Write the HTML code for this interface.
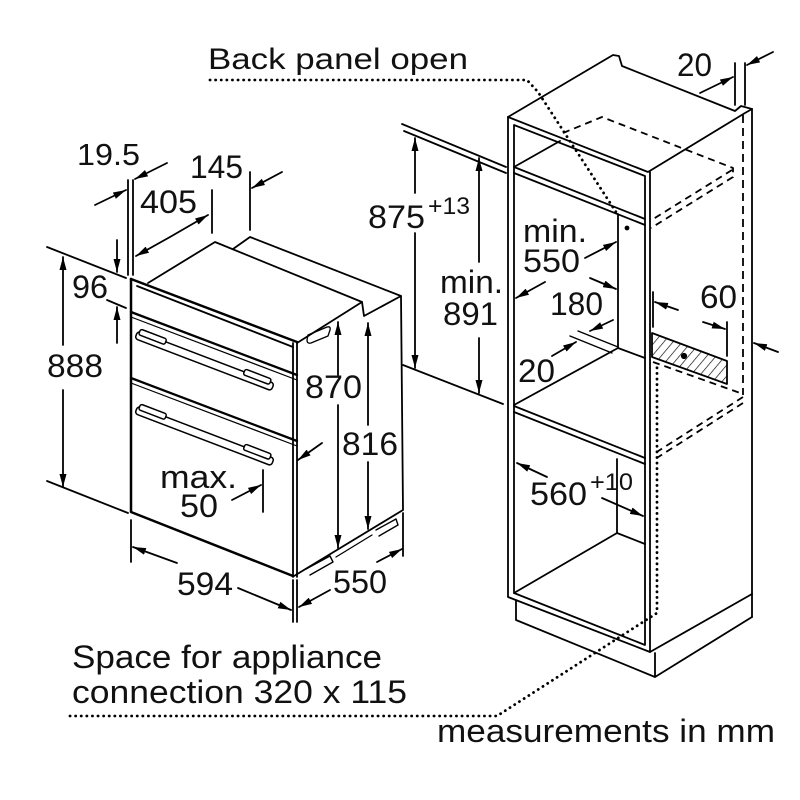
<!DOCTYPE html>
<html><head><meta charset="utf-8"><style>
html,body{margin:0;padding:0;background:#fff;}
svg{display:block;}
text{font-family:"Liberation Sans",Arial,sans-serif;fill:#111;}
</style></head><body>
<svg width="800" height="800" viewBox="0 0 800 800" xmlns="http://www.w3.org/2000/svg">
<defs>
<marker id="a" viewBox="0 0 13 7" refX="13" refY="3.5" markerWidth="13" markerHeight="7" markerUnits="userSpaceOnUse" orient="auto"><path d="M0,0L13,3.5L0,7z" fill="#000"/></marker>
<pattern id="h" width="7" height="7" patternUnits="userSpaceOnUse" patternTransform="rotate(40)"><line x1="0" y1="0" x2="0" y2="7" stroke="#000" stroke-width="1.3"/></pattern>
</defs>
<rect width="800" height="800" fill="#fff"/>
<g stroke="#000" stroke-width="1.8" fill="none" stroke-linecap="round" stroke-linejoin="round">
<!-- OVEN -->
<path d="M131,279 L131,512 L293,576" stroke-width="2.5"/>
<path d="M131,279 L297,342" stroke-width="2.5"/>
<path d="M137,286 L293,347"/>
<path d="M293,343 V577 M297,342 V577"/>
<path d="M148,283 L215,242 L362,302 L364,316 L401,296 L250,237 L233,249"/>
<path d="M297,343 L362,302"/>
<path d="M401,296 L403,510 L294,576"/>
<path d="M131,312 L297,375" stroke-width="2.3"/>
<path d="M131,317 L297,380" stroke-width="1.2"/>
<path d="M131,378 L297,441" stroke-width="2.3"/>
<path d="M131,383 L297,446" stroke-width="1.2"/>
<!-- handles -->
<g transform="translate(137,333) rotate(20.9)" stroke-width="1.5" fill="#fff">
<rect x="0" y="-2" width="146" height="8" rx="3"/>
<rect x="2" y="-5" width="28" height="6" rx="2"/>
<rect x="114" y="-5" width="28" height="6" rx="2"/>
</g>
<g transform="translate(137,408) rotate(20.9)" stroke-width="1.5" fill="#fff">
<rect x="0" y="-2" width="146" height="8" rx="3"/>
<rect x="2" y="-5" width="28" height="6" rx="2"/>
<rect x="114" y="-5" width="28" height="6" rx="2"/>
</g>
<path d="M308,335 L327,327 Q331,326 330,330 L328,336 L311,343 Q307,344 307,340 Z" stroke-width="1.3"/>
<path d="M306,569 L330,556 L333,562 L310,575 M376,530 L396,519 L398,525 L379,536" stroke-width="1.4"/>
<!-- oven dims -->
<path d="M47,247 L126,278 M47,481 L128,513"/>
<path d="M63,345 L63,257" marker-end="url(#a)"/>
<path d="M63,390 L63,487" marker-end="url(#a)"/>
<path d="M117,240 L117,272" marker-end="url(#a)"/>
<path d="M117,343 L117,307" marker-end="url(#a)"/>
<path d="M107,300 L126,308"/>
<path d="M128,180 V275 M133,180 V275"/>
<path d="M95,205 L126,190" marker-end="url(#a)"/>
<path d="M167,163 L135,179" marker-end="url(#a)"/>
<path d="M170,237 L208,215" marker-end="url(#a)"/>
<path d="M170,237 L136,256" marker-end="url(#a)"/>
<path d="M212,190 V233"/>
<path d="M250,172 V230"/>
<path d="M282,172 L252,188" marker-end="url(#a)"/>
<path d="M338,375 L338,322" marker-end="url(#a)"/>
<path d="M338,405 L338,548" marker-end="url(#a)"/>
<path d="M368,425 L368,323" marker-end="url(#a)"/>
<path d="M368,462 L368,529" marker-end="url(#a)"/>
<path d="M336,557 L372,535" stroke-width="1.3"/>
<path d="M232,500 L261,485" marker-end="url(#a)"/>
<path d="M263,470 V512"/>
<path d="M322,443 L298,460" marker-end="url(#a)"/>
<path d="M131,520 V562 M293,580 V622 M297,580 V622"/>
<path d="M177,563 L133,547" marker-end="url(#a)"/>
<path d="M238,588 L291,610" marker-end="url(#a)"/>
<path d="M403,513 V556"/>
<path d="M330,590 L299,607" marker-end="url(#a)"/>
<path d="M377,562 L402,549" marker-end="url(#a)"/>
<!-- CABINET -->
<path d="M508,117 L613,55 L619,56 L622,66 L735,111 L741,106 L752,109 L752,617"/>
<path d="M508,117 L648,172 L745,113 L752,109"/>
<path d="M508,117 V597 L650,652 V172"/>
<path d="M514,125 L645,176 L645,645 L514,593 Z"/>
<path d="M514,167 L645,219 M514,173 L645,225 M514,167 L560,141"/>
<path d="M563,133 L602,117 L733,168 L733,178" stroke-dasharray="7 5" stroke-linecap="butt"/>
<path d="M732,170 L650,221 M733,177 L651,228" stroke-dasharray="7 5" stroke-linecap="butt"/>
<path d="M743,115 V395" stroke-dasharray="8 5" stroke-linecap="butt"/>
<path d="M618,214 V348"/>
<path d="M514,405 L618,348 M618,348 L645,358"/>
<path d="M570,336 L612,353 M578,331 L618,347" stroke-width="1.4"/>
<path d="M514,406 L645,458 M514,412 L645,464"/>
<path d="M617,459 V533 L645,544 M617,533 L514,593"/>
<path d="M516,600 V620 L655,677 V653 M655,677 L752,617 M650,652 L752,594"/>
<polygon points="652,333 727,361 727,384 652,357" fill="url(#h)"/>
<circle cx="684" cy="356" r="2.2" fill="#000"/>
<circle cx="627" cy="228" r="2.4" fill="#000" stroke="none"/>
<path d="M653,362 L743,394" stroke-dasharray="7 5" stroke-linecap="butt"/>
<path d="M743,397 L652,455 M743,403 L652,461" stroke-dasharray="7 5" stroke-linecap="butt"/>
<!-- dotted leaders -->
<path d="M210,80 L527,80 L538,92 L616,212" stroke-width="2.8" stroke-dasharray="0.1 5.5"/>
<path d="M70,716 L497,716 L657,613 L657,365" stroke-width="2.8" stroke-dasharray="0.1 5.5"/>
<!-- cabinet dims -->
<path d="M402,124 L506,167 M404,131 L506,173 M403,365 L503,404"/>
<path d="M415,193 L415,138" marker-end="url(#a)"/>
<path d="M415,233 L415,368" marker-end="url(#a)"/>
<path d="M479,262 L479,158" marker-end="url(#a)"/>
<path d="M479,338 L479,393" marker-end="url(#a)"/>
<path d="M585,258 L616,242" marker-end="url(#a)"/>
<path d="M545,282 L516,298" marker-end="url(#a)"/>
<path d="M590,278 L616,289" marker-end="url(#a)"/>
<path d="M613,320 L590,331" marker-end="url(#a)"/>
<path d="M552,356 L576,342" marker-end="url(#a)"/>
<path d="M653,292 V327 M727,322 V356"/>
<path d="M678,310 L655,302" marker-end="url(#a)"/>
<path d="M703,322 L725,329" marker-end="url(#a)"/>
<path d="M778,352 L754,343" marker-end="url(#a)"/>
<path d="M735,63 V105 M745,63 V105"/>
<path d="M700,93 L733,77" marker-end="url(#a)"/>
<path d="M773,52 L747,65" marker-end="url(#a)"/>
<path d="M547,477 L517,463" marker-end="url(#a)"/>
<path d="M602,498 L643,516" marker-end="url(#a)"/>
</g>
<g font-size="32">
<text x="208" y="69" textLength="260" lengthAdjust="spacingAndGlyphs" font-size="30">Back panel open</text>
<text x="77" y="165" textLength="63" lengthAdjust="spacingAndGlyphs" font-size="31">19.5</text>
<text x="140" y="213" textLength="57" lengthAdjust="spacingAndGlyphs">405</text>
<text x="190" y="178" textLength="53" lengthAdjust="spacingAndGlyphs">145</text>
<text x="72" y="298" textLength="36" lengthAdjust="spacingAndGlyphs">96</text>
<text x="47" y="377" textLength="56" lengthAdjust="spacingAndGlyphs">888</text>
<text x="305" y="398" textLength="57" lengthAdjust="spacingAndGlyphs">870</text>
<text x="342" y="455" textLength="56" lengthAdjust="spacingAndGlyphs">816</text>
<text x="160" y="488" textLength="77" lengthAdjust="spacingAndGlyphs">max.</text>
<text x="180" y="517" textLength="38" lengthAdjust="spacingAndGlyphs">50</text>
<text x="177" y="595" textLength="56" lengthAdjust="spacingAndGlyphs">594</text>
<text x="333" y="593" textLength="54" lengthAdjust="spacingAndGlyphs">550</text>
<text x="368" y="228" textLength="57" lengthAdjust="spacingAndGlyphs">875</text>
<text x="428" y="214" textLength="42" lengthAdjust="spacingAndGlyphs" font-size="24">+13</text>
<text x="440" y="293" textLength="63" lengthAdjust="spacingAndGlyphs">min.</text>
<text x="443" y="325" textLength="55" lengthAdjust="spacingAndGlyphs">891</text>
<text x="523" y="242" textLength="64" lengthAdjust="spacingAndGlyphs">min.</text>
<text x="523" y="272" textLength="57" lengthAdjust="spacingAndGlyphs">550</text>
<text x="550" y="315" textLength="53" lengthAdjust="spacingAndGlyphs">180</text>
<text x="518" y="382" textLength="37" lengthAdjust="spacingAndGlyphs">20</text>
<text x="700" y="308" textLength="37" lengthAdjust="spacingAndGlyphs">60</text>
<text x="677" y="76" textLength="35" lengthAdjust="spacingAndGlyphs">20</text>
<text x="530" y="505" textLength="57" lengthAdjust="spacingAndGlyphs">560</text>
<text x="590" y="490" textLength="43" lengthAdjust="spacingAndGlyphs" font-size="24">+10</text>
<text x="72" y="668" textLength="310" lengthAdjust="spacingAndGlyphs">Space for appliance</text>
<text x="72" y="703" textLength="335" lengthAdjust="spacingAndGlyphs">connection 320 x 115</text>
<text x="437" y="742" textLength="338" lengthAdjust="spacingAndGlyphs">measurements in mm</text>
</g>
</svg>
</body></html>
